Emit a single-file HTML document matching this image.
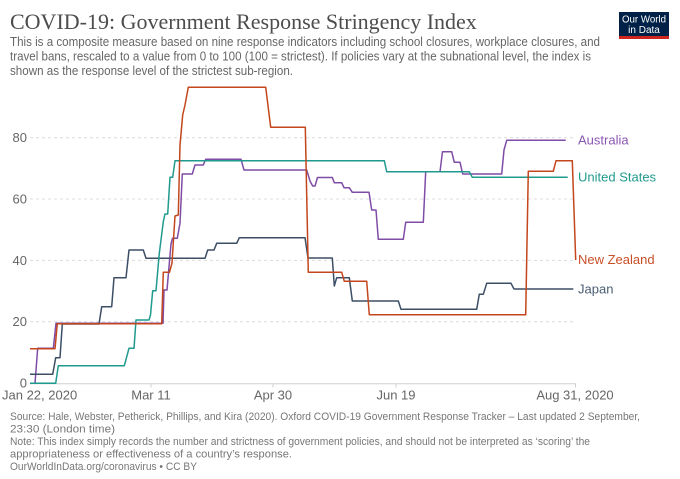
<!DOCTYPE html>
<html>
<head>
<meta charset="utf-8">
<style>
  html, body { margin: 0; padding: 0; background: #fff; }
  svg { display: block; }
  .sans { font-family: "Liberation Sans", Arial, sans-serif; }
  .serif { font-family: "Liberation Serif", "Times New Roman", serif; }
</style>
</head>
<body>
<svg width="680" height="479" viewBox="0 0 680 479" xmlns="http://www.w3.org/2000/svg">
  <rect x="0" y="0" width="680" height="479" fill="#fff"/>

  <!-- Title -->
  <text x="10" y="29" class="serif" font-size="22" fill="#4d4d4d">COVID-19: Government Response Stringency Index</text>
  <g class="sans" font-size="13" fill="#666">
    <text x="10" y="46" textLength="590" lengthAdjust="spacingAndGlyphs">This is a composite measure based on nine response indicators including school closures, workplace closures, and</text>
    <text x="10" y="60.5" textLength="581" lengthAdjust="spacingAndGlyphs">travel bans, rescaled to a value from 0 to 100 (100 = strictest). If policies vary at the subnational level, the index is</text>
    <text x="10" y="75" textLength="283" lengthAdjust="spacingAndGlyphs">shown as the response level of the strictest sub-region.</text>
  </g>

  <!-- Logo -->
  <rect x="619" y="12" width="50" height="27" fill="#002147"/>
  <rect x="619" y="36" width="50" height="3" fill="#ce261e"/>
  <text x="644" y="22.5" text-anchor="middle" class="sans" font-size="10" fill="#fff" textLength="44" lengthAdjust="spacingAndGlyphs">Our World</text>
  <text x="644" y="33" text-anchor="middle" class="sans" font-size="10" fill="#fff">in Data</text>

  <!-- Grid -->
  <g stroke="#dcdcdc" stroke-width="1" stroke-dasharray="3,3">
    <line x1="30" y1="137.7" x2="576" y2="137.7"/>
    <line x1="30" y1="199" x2="576" y2="199"/>
    <line x1="30" y1="260.4" x2="576" y2="260.4"/>
    <line x1="30" y1="321.7" x2="576" y2="321.7"/>
  </g>
  <!-- Axis -->
  <line x1="30" y1="383.8" x2="576" y2="383.8" stroke="#d0d0d0" stroke-width="1"/>
  <g stroke="#d0d0d0" stroke-width="1">
    <line x1="151" y1="383.8" x2="151" y2="387.5"/>
    <line x1="273" y1="383.8" x2="273" y2="387.5"/>
    <line x1="396" y1="383.8" x2="396" y2="387.5"/>
    <line x1="575.5" y1="383.8" x2="575.5" y2="387.5"/>
  </g>

  <!-- Y labels -->
  <g class="sans" font-size="13" fill="#666" text-anchor="end">
    <text x="27" y="142.2">80</text>
    <text x="27" y="203.5">60</text>
    <text x="27" y="264.9">40</text>
    <text x="27" y="326.2">20</text>
    <text x="27" y="387.5">0</text>
  </g>

  <!-- X labels -->
  <g class="sans" font-size="13" fill="#666">
    <text x="2" y="399.5">Jan 22, 2020</text>
    <text x="151" y="399.5" text-anchor="middle">Mar 11</text>
    <text x="273" y="399.5" text-anchor="middle">Apr 30</text>
    <text x="396" y="399.5" text-anchor="middle">Jun 19</text>
    <text x="575" y="399.5" text-anchor="middle">Aug 31, 2020</text>
  </g>

  <!-- Series -->
  <g fill="none" stroke-width="1.5" stroke-linejoin="round">
    <!-- Australia -->
    <polyline stroke="#7f4ca6" points="35,383.3 37.7,348.3 53.3,348.3 56,323.3 163,323.3 164,290 167,290 169,267 171,244 172.5,238.3 177.3,238.3 180,223.3 182.3,174 192.3,174 195,165 203.3,165 205.7,159.3 241,159.3 244,170 306.7,170 310,181 312.7,186 315,186 317.5,177.5 332.3,177.5 334.3,182.7 341.7,182.7 344,187.7 349.3,187.7 352.3,192.3 369,192.3 371.7,210 376,210 378.3,239.3 403.3,239.3 405.7,222.3 423.3,222.3 425.7,171.7 440,171.7 442.5,151.7 451.7,151.7 454.3,162.3 460,162.3 462.7,174 501.7,174 504,150 506.7,140.3 565.7,140.3"/>
    <!-- Japan -->
    <polyline stroke="#3c4e66" points="30,374.3 52.7,374.3 55.7,357.7 60,357.7 62.3,324 99,324 101.7,306.7 111.7,306.7 114,277.7 126,277.7 129,250 143.3,250 146,258.3 205,258.3 207.7,250 214,250 216.7,243.3 236.7,243.3 239.3,237.7 305,237.7 308,258 332.3,258 334.3,286 336.7,277.7 349.3,277.7 352.3,301 398.3,301 401,309.3 476.7,309.3 479.3,294.3 483.3,294.3 486.7,283.3 511,283.3 514,289 573.3,289"/>
    <!-- United States -->
    <polyline stroke="#1f9a8f" points="30,383.3 55.7,383.3 58.3,365.7 124.3,365.7 129,348.3 134,348.3 136,320 149,320 150.5,315 152.7,290.7 156,290.7 159.3,253.3 163.3,221.7 165,214 167.7,214 170,177.3 172.7,177.3 175,160.7 384.3,160.7 386.7,171.7 469.3,171.7 472.3,177.3 567.7,177.3"/>
    <!-- New Zealand -->
    <polyline stroke="#c4461c" points="30,348.7 55,348.7 57.3,323.7 161.7,323.7 163.3,272.3 169.5,272.3 172,263 175,216 178.3,215 180,145 182.7,115 185,105 188.3,87.3 265.7,87.3 270.7,127.3 305.3,127.3 308.3,272.3 341.7,272.3 344.3,281.3 366.7,281.3 369.3,314.7 525.7,314.7 528.3,171.3 553.3,171.3 556,160.7 572.3,160.7 575.7,260"/>
  </g>

  <!-- Series labels -->
  <g class="sans" font-size="13">
    <text x="578" y="144.5" fill="#8a57b3">Australia</text>
    <text x="578" y="181.5" fill="#22998e">United States</text>
    <text x="578" y="264" fill="#c94f27">New Zealand</text>
    <text x="578" y="293.5" fill="#4b5c74">Japan</text>
  </g>

  <!-- Footer -->
  <g class="sans" font-size="11" fill="#777">
    <text x="10" y="420" textLength="630" lengthAdjust="spacingAndGlyphs">Source: Hale, Webster, Petherick, Phillips, and Kira (2020). Oxford COVID-19 Government Response Tracker – Last updated 2 September,</text>
    <text x="10" y="432.5" textLength="105" lengthAdjust="spacingAndGlyphs">23:30 (London time)</text>
    <text x="10" y="445" textLength="580" lengthAdjust="spacingAndGlyphs">Note: This index simply records the number and strictness of government policies, and should not be interpreted as ‘scoring’ the</text>
    <text x="10" y="457.5" textLength="282" lengthAdjust="spacingAndGlyphs">appropriateness or effectiveness of a country’s response.</text>
    <text x="10" y="470" textLength="187" lengthAdjust="spacingAndGlyphs">OurWorldInData.org/coronavirus • CC BY</text>
  </g>
</svg>
</body>
</html>
